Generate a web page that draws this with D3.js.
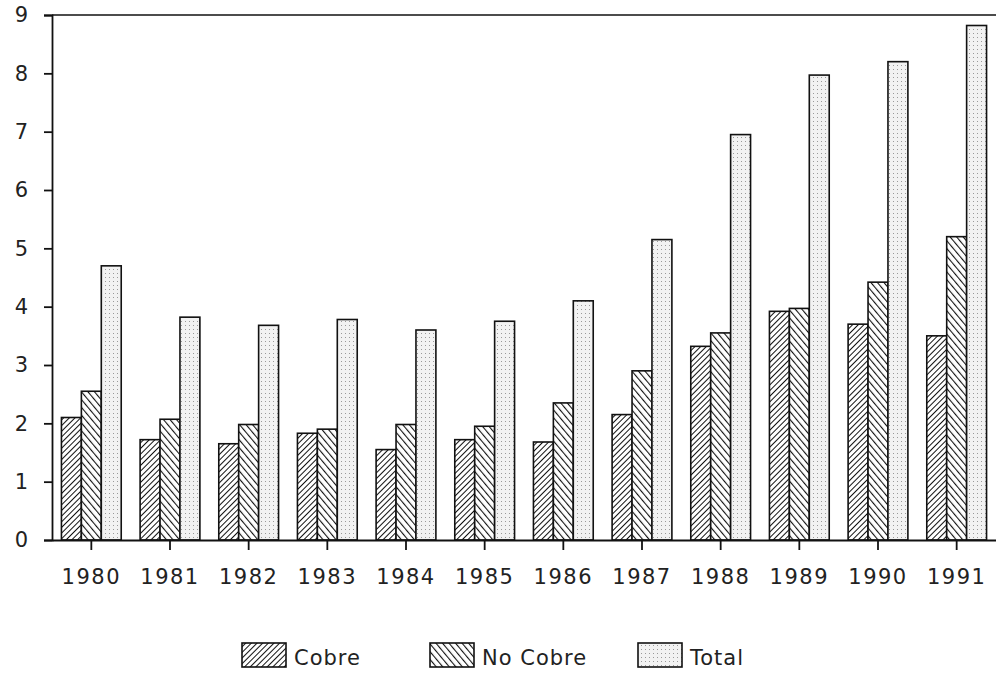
<!DOCTYPE html>
<html><head><meta charset="utf-8">
<script src="https://cdn.jsdelivr.net/npm/d3@7"></script>
<style>body{margin:0;background:#fff}text{font-family:"DejaVu Sans",sans-serif}</style>
</head><body><svg width="996" height="676"></svg>
<script>
let years = ['1980','1981','1982','1983','1984','1985','1986','1987','1988','1989','1990','1991'];
let cobre = [2.1,1.72,1.65,1.83,1.55,1.72,1.68,2.15,3.32,3.92,3.7,3.5];
let noCobre = [2.55,2.07,1.98,1.9,1.98,1.95,2.35,2.9,3.55,3.97,4.42,5.2];
let total = [4.7,3.82,3.68,3.78,3.6,3.75,4.1,5.15,6.95,7.97,8.2,8.82];
let seriesNames = ['Cobre','No Cobre','Total'];
let yTicks = [0,1,2,3,4,5,6,7,8,9];

let svg = d3.select('svg');
let defs = svg.append('defs');
let p1 = defs.append('pattern').attr('id','p1').attr('width',4).attr('height',4)
  .attr('patternUnits','userSpaceOnUse').attr('patternTransform','rotate(45)');
p1.append('rect').attr('width',4).attr('height',4).attr('fill','#fff');
p1.append('line').attr('x1',0).attr('y1',0).attr('x2',0).attr('y2',4).attr('stroke','#111').attr('stroke-width',2);
let p2 = defs.append('pattern').attr('id','p2').attr('width',5).attr('height',5)
  .attr('patternUnits','userSpaceOnUse').attr('patternTransform','rotate(-40)');
p2.append('rect').attr('width',5).attr('height',5).attr('fill','#fff');
p2.append('line').attr('x1',0).attr('y1',0).attr('x2',0).attr('y2',5).attr('stroke','#111').attr('stroke-width',2.2);
let p3 = defs.append('pattern').attr('id','p3').attr('width',4).attr('height',4).attr('patternUnits','userSpaceOnUse');
p3.append('rect').attr('width',4).attr('height',4).attr('fill','#f2f2f2');
p3.append('rect').attr('x',1).attr('y',1).attr('width',1).attr('height',1).attr('fill','#999');
let fills = ['url(#p1)','url(#p2)','url(#p3)'];

let mLeft = 52, mRight = 996, mTop = 15, mBottom = 540;
let x = d3.scaleBand().domain(years).range([mLeft, mRight]).paddingInner(0.24).paddingOuter(0.12);
let xs = d3.scaleBand().domain(seriesNames).range([0, x.bandwidth()]);
let y = d3.scaleLinear().domain([0,9]).range([mBottom, mTop]);

let data = [cobre, noCobre, total];
data.forEach((vals, s) => {
  svg.append('g').selectAll('rect').data(vals).enter().append('rect')
    .attr('x', (d,i) => x(years[i]) + xs(seriesNames[s]))
    .attr('width', xs.bandwidth())
    .attr('y', d => y(d))
    .attr('height', d => mBottom - y(d))
    .attr('fill', fills[s]).attr('stroke','#111').attr('stroke-width',1.6);
});

let ya = svg.append('g').attr('transform',`translate(${mLeft},0)`)
  .call(d3.axisLeft(y).tickValues(yTicks).tickSize(8).tickPadding(16));
ya.selectAll('text').attr('font-size',21).attr('font-family','DejaVu Sans').attr('fill','#222');
let xa = svg.append('g').attr('transform',`translate(0,${mBottom})`)
  .call(d3.axisBottom(x).tickSize(10).tickPadding(19).tickSizeOuter(0));
xa.selectAll('text').attr('font-size',21).attr('letter-spacing',1.5).attr('font-family','DejaVu Sans').attr('fill','#222');
svg.selectAll('.domain, .tick line').attr('stroke','#111').attr('stroke-width',1.8);
svg.append('line').attr('x1',mLeft).attr('x2',mRight).attr('y1',mTop).attr('y2',mTop)
  .attr('stroke','#111').attr('stroke-width',1.5);

let legX = [242, 430, 638];
seriesNames.forEach((n,i) => {
  svg.append('rect').attr('x',legX[i]).attr('y',643).attr('width',44).attr('height',24)
    .attr('fill',fills[i]).attr('stroke','#111').attr('stroke-width',1.6);
  svg.append('text').attr('x',legX[i]+52).attr('y',665).text(n).attr('font-size',21)
    .attr('letter-spacing',1).attr('fill','#222');
});
</script></body></html>
